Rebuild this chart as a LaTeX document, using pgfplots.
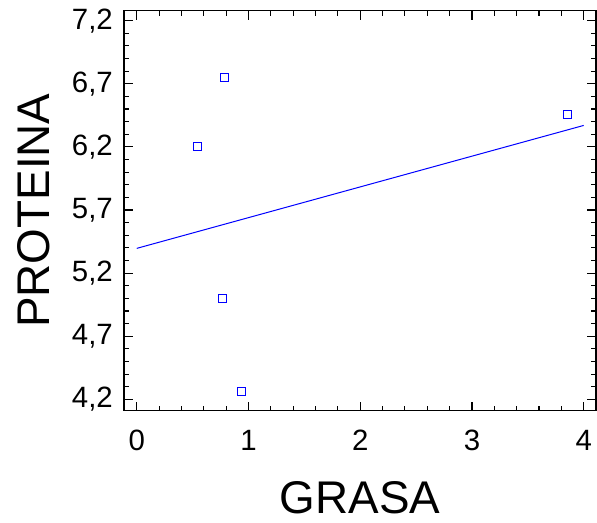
\documentclass[border=0pt]{standalone}
\usepackage{fontspec}
\setmainfont{Liberation Sans}
\usepackage{pgfplots}
\pgfplotsset{compat=1.18}
\definecolor{ptblue}{RGB}{0,0,255}
\begin{document}
\begin{tikzpicture}[x=1bp,y=1bp]
\path[use as bounding box] (-124,-112.3) rectangle (473,410.7);
\begin{axis}[
  at={(0,0)}, anchor=south west,
  scale only axis, width=472bp, height=400bp,
  xmin=-0.114, xmax=4.11, ymin=4.11, ymax=7.279,
  xtick={0,1,2,3,4},
  ytick={4.2,4.7,5.2,5.7,6.2,6.7,7.2},
  minor x tick num=4, minor y tick num=4,
  major tick length=9bp, minor tick length=5bp,
  tick align=inside,
  axis line style={line width=1.3bp},
  every tick/.style={black, line width=1.1bp},
  /pgf/number format/assume math mode=true,
  y tick label style={/pgf/number format/use comma, /pgf/number format/fixed, /pgf/number format/fixed zerofill, /pgf/number format/precision=1},
  xticklabel style={anchor=base, yshift=-40bp, inner sep=0pt},
  yticklabel style={anchor=east, inner sep=0pt, xshift=-11bp},
  tick label style={font=\fontsize{29.5}{31}\selectfont},
  label style={font=\fontsize{46}{48}\selectfont},
  xlabel={GRASA},
  ylabel={PROTEINA},
  xlabel style={at={(axis description cs:0.5,-0.257)}, anchor=base, inner sep=0pt},
  ylabel style={at={(axis description cs:-0.1568,0.5)}, rotate=0, anchor=base, inner sep=0pt},
]
\addplot[only marks, mark=square, mark size=4bp, draw=ptblue, mark options={draw=ptblue, fill=none, solid, line width=1bp}] coordinates {
  (0.54,6.20) (0.787,6.75) (0.766,4.995) (0.94,4.26) (3.853,6.453)
};
\addplot[draw=ptblue, line width=1bp] coordinates {(0,5.396) (4,6.37)};
\end{axis}
\end{tikzpicture}
\end{document}
